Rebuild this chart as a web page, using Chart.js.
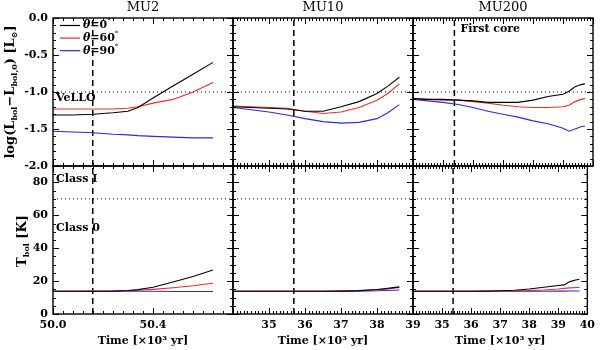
<!DOCTYPE html>
<html>
<head>
<meta charset="utf-8">
<script src="https://cdn.jsdelivr.net/npm/chart.js@4"></script>
<style>
  body { margin: 0; background: #fff; }
  #wrap { position: relative; width: 600px; height: 350px; }
  #wrap canvas { position: absolute; left: 0; top: 0; }
</style>
</head>
<body>
<div id="wrap">
  <canvas id="p0" width="600" height="350"></canvas>
  <canvas id="p1" width="600" height="350"></canvas>
  <canvas id="p2" width="600" height="350"></canvas>
  <canvas id="p3" width="600" height="350"></canvas>
  <canvas id="p4" width="600" height="350"></canvas>
  <canvas id="p5" width="600" height="350"></canvas>
</div>
<script>
// ---- data ----
const models = ['MU2', 'MU10', 'MU200'];
const angleLabels = ['0', '60', '90'];   // viewing angle theta [deg]

// MU2
const mu2Time   = [50.00, 50.08, 50.16, 50.24, 50.30, 50.34, 50.40, 50.48, 50.56, 50.64];
const mu2Lum0   = [-1.31, -1.31, -1.30, -1.28, -1.26, -1.21, -1.08, -0.92, -0.76, -0.60];
const mu2Lum60  = [-1.23, -1.23, -1.23, -1.23, -1.22, -1.20, -1.15, -1.10, -1.00, -0.87];
const mu2Lum90  = [-1.53, -1.54, -1.55, -1.57, -1.58, -1.59, -1.60, -1.61, -1.62, -1.62];
const mu2Tbol0  = [13.8, 13.8, 13.8, 13.9, 14.3, 14.8, 16.3, 19.5, 22.8, 26.8];
const mu2Tbol60 = [13.8, 13.8, 13.9, 14.0, 14.1, 14.4, 15.0, 16.0, 17.2, 18.7];
const mu2Tbol90 = [13.8, 13.8, 13.8, 13.8, 13.8, 13.8, 13.8, 13.7, 13.7, 13.7];

// MU10
const mu10Time   = [34.0, 34.5, 35.0, 35.5, 36.0, 36.5, 37.0, 37.5, 38.0, 38.3, 38.62];
const mu10Lum0   = [-1.20, -1.21, -1.22, -1.23, -1.26, -1.26, -1.20, -1.13, -1.02, -0.92, -0.80];
const mu10Lum60  = [-1.19, -1.20, -1.21, -1.22, -1.26, -1.29, -1.27, -1.21, -1.11, -1.02, -0.89];
const mu10Lum90  = [-1.21, -1.24, -1.27, -1.31, -1.36, -1.40, -1.42, -1.41, -1.36, -1.28, -1.17];
const mu10Tbol0  = [13.8, 13.8, 13.8, 13.8, 13.8, 13.8, 13.9, 14.2, 14.9, 15.6, 16.5];
const mu10Tbol60 = [13.8, 13.8, 13.8, 13.8, 13.8, 13.8, 13.9, 14.1, 14.7, 15.3, 16.2];
const mu10Tbol90 = [13.8, 13.8, 13.8, 13.8, 13.8, 13.8, 13.8, 13.9, 14.1, 14.3, 14.6];

// MU200
const mu200Time   = [34.0, 34.5, 35.0, 35.5, 36.0, 36.5, 37.0, 37.5, 38.0, 38.5, 39.0, 39.2, 39.4, 39.6, 39.73];
const mu200Lum0   = [-1.09, -1.10, -1.10, -1.11, -1.12, -1.14, -1.14, -1.14, -1.11, -1.06, -1.03, -0.99, -0.93, -0.90, -0.89];
const mu200Lum60  = [-1.09, -1.10, -1.11, -1.11, -1.13, -1.15, -1.18, -1.20, -1.21, -1.21, -1.20, -1.18, -1.13, -1.10, -1.09];
const mu200Lum90  = [-1.10, -1.12, -1.14, -1.17, -1.21, -1.26, -1.30, -1.34, -1.39, -1.43, -1.49, -1.53, -1.50, -1.47, -1.46];
const mu200Tbol0  = [13.8, 13.8, 13.8, 13.8, 13.8, 13.9, 14.1, 14.4, 15.2, 16.3, 17.3, 17.7, 19.7, 20.7, 21.1];
const mu200Tbol60 = [13.8, 13.8, 13.8, 13.8, 13.8, 13.8, 13.8, 13.9, 14.2, 14.6, 15.2, 15.6, 15.9, 16.1, 16.1];
const mu200Tbol90 = [13.8, 13.8, 13.8, 13.8, 13.8, 13.8, 13.8, 13.8, 13.8, 13.8, 13.9, 13.9, 14.0, 14.0, 14.0];

// axes and limits
const timeRanges = [[50.0, 50.72], [34, 39], [34, 40]];
const timeLabelSteps = [0.4, 1, 1];
const lumRange = [-2.0, 0.0];
const tbolRange = [0, 90];
const velloLimit = -1.0;      // VeLLO luminosity limit
const classILimit = 70;       // Class 0 / Class I boundary [K]
const firstCoreTime = [50.159, 35.69, 35.38];

const panels = [
  {time: mu2Time,   lum: [mu2Lum0, mu2Lum60, mu2Lum90],       tbol: [mu2Tbol0, mu2Tbol60, mu2Tbol90]},
  {time: mu10Time,  lum: [mu10Lum0, mu10Lum60, mu10Lum90],    tbol: [mu10Tbol0, mu10Tbol60, mu10Tbol90]},
  {time: mu200Time, lum: [mu200Lum0, mu200Lum60, mu200Lum90], tbol: [mu200Tbol0, mu200Tbol60, mu200Tbol90]}
];

// ---- style ----
const colors = ['#000000', '#e5302a', '#2a2ae0'];
const serif = '"DejaVu Serif", "Liberation Serif", serif';
const tickFont = {family: serif, size: 11, weight: 'bold'};
const minorSteps = {x: [0.04, 0.1, 0.1], lum: 0.1, tbol: 5};
const majorSteps = {x: [0.4, 1, 1], lum: 0.5, tbol: 20};

function lineData(xs, ys) {
    return xs.map((x, i) => ({x: x, y: ys[i]}));
}

// text with sub/superscript parts: style 0 normal, 1 sub, 2 sup, 3 italic
function drawRich(ctx, parts, x, y, rot, size, align) {
    ctx.save();
    ctx.translate(x, y);
    ctx.rotate(rot);
    const fontFor = s => {
        if (s === 1 || s === 2) return `bold ${Math.round(size * 0.65)}px ${serif}`;
        if (s === 3) return `italic bold ${size}px ${serif}`;
        return `bold ${size}px ${serif}`;
    };
    let w = 0;
    parts.forEach(([t, s]) => { ctx.font = fontFor(s); w += ctx.measureText(t).width; });
    let cx = align === 'center' ? -w / 2 : 0;
    ctx.fillStyle = '#000';
    ctx.textAlign = 'left';
    ctx.textBaseline = 'middle';
    parts.forEach(([t, s]) => {
        ctx.font = fontFor(s);
        const dy = s === 1 ? size * 0.3 : (s === 2 ? -size * 0.35 : 0);
        ctx.fillText(t, cx, dy);
        cx += ctx.measureText(t).width;
    });
    ctx.restore();
}

// IDL-like frame with inward ticks on all four sides
const idlAxes = {
    id: 'idlAxes',
    afterDraw(chart, args, opts) {
        const {ctx, chartArea: a} = chart;
        const xs = chart.scales.x, ys = chart.scales.y;
        ctx.save();
        ctx.strokeStyle = '#000';
        ctx.lineWidth = 1;
        ctx.beginPath();
        const marks = (scale, step, len, horiz) => {
            const first = Math.ceil(scale.min / step - 1e-6);
            for (let i = first; i * step <= scale.max + 1e-9; i++) {
                const p = Math.round(scale.getPixelForValue(i * step)) + 0.5;
                if (horiz) {
                    ctx.moveTo(p, a.bottom); ctx.lineTo(p, a.bottom - len);
                    ctx.moveTo(p, a.top); ctx.lineTo(p, a.top + len);
                } else {
                    ctx.moveTo(a.left, p); ctx.lineTo(a.left + len, p);
                    ctx.moveTo(a.right, p); ctx.lineTo(a.right - len, p);
                }
            }
        };
        marks(xs, opts.xMinor, 3, true);
        marks(xs, opts.xMajor, 6, true);
        marks(ys, opts.yMinor, 3, false);
        marks(ys, opts.yMajor, 6, false);
        ctx.stroke();
        ctx.lineWidth = 1.4;
        ctx.strokeRect(a.left, a.top, a.right - a.left, a.bottom - a.top);
        ctx.restore();
    }
};

// panel notes placed in data coordinates
const panelNotes = {
    0: [{text: 'VeLLO', x: 50.012, y: -1.08}],
    2: [{text: 'First core', x: firstCoreTime[2] + 0.2, y: -0.15}],
    3: [{text: 'Class I', x: 50.012, y: 82}, {text: 'Class 0', x: 50.012, y: 52}]
};
const notes = {
    id: 'notes',
    afterDraw(chart, args, opts) {
        (opts.items || []).forEach(n => {
            drawRich(chart.ctx, [[n.text, 0]], chart.scales.x.getPixelForValue(n.x),
                chart.scales.y.getPixelForValue(n.y), 0, 11, 'left');
        });
    }
};

// titles, y-axis titles and legend
const pageText = {
    id: 'pageText',
    afterDraw(chart) {
        const ctx = chart.ctx;
        ctx.save();
        ctx.fillStyle = '#000';
        ctx.font = `13px ${serif}`;
        ctx.textAlign = 'center';
        ctx.textBaseline = 'middle';
        models.forEach((m, i) => ctx.fillText(m, 143 + i * 180, 8));
        ctx.restore();

        drawRich(ctx, [['log(L', 0], ['bol', 1], ['\u2212L', 0], ['bol,0', 1], [') [L', 0], ['\u2299', 1], [']', 0]],
            11, 92, -Math.PI / 2, 13, 'center');
        drawRich(ctx, [['T', 0], ['bol', 1], [' [K]', 0]], 23, 241, -Math.PI / 2, 13, 'center');

        angleLabels.forEach((a, i) => {
            const y = 25.5 + i * 12.6;
            ctx.save();
            ctx.strokeStyle = colors[i];
            ctx.lineWidth = 1.2;
            ctx.beginPath();
            ctx.moveTo(60, y); ctx.lineTo(80, y);
            ctx.stroke();
            ctx.restore();
            drawRich(ctx, [['\u03b8', 3], ['=' + a, 0], ['\u00b0', 2]], 83, y, 0, 11, 'left');
        });
    }
};

// ---- charts ----
panels.forEach((p, col) => {
    [0, 1].forEach(row => {
        const idx = row * 3 + col;
        const left = 53 + col * 180;
        const top = row === 0 ? 18 : 166;
        const xr = timeRanges[col];
        const yr = row === 0 ? lumRange : tbolRange;
        const limit = row === 0 ? velloLimit : classILimit;
        const series = row === 0 ? p.lum : p.tbol;

        const datasets = series.map((ys, i) => ({
            data: lineData(p.time, ys),
            borderColor: colors[i],
            borderWidth: 1.1,
            showLine: true,
            pointRadius: 0
        }));
        datasets.push({
            data: [{x: xr[0], y: limit}, {x: xr[1], y: limit}],
            borderColor: '#000', borderWidth: 1, borderDash: [1, 3],
            showLine: true, pointRadius: 0
        });
        datasets.push({
            data: [{x: firstCoreTime[col], y: yr[0]}, {x: firstCoreTime[col], y: yr[1]}],
            borderColor: '#000', borderWidth: 1.5, borderDash: [6, 4],
            showLine: true, pointRadius: 0
        });

        const chartPlugins = [idlAxes, notes];
        if (idx === 5) chartPlugins.push(pageText);

        new Chart(document.getElementById('p' + idx), {
            type: 'scatter',
            data: {datasets: datasets},
            options: {
                responsive: false,
                animation: false,
                devicePixelRatio: 1,
                events: [],
                elements: {line: {tension: 0}},
                layout: {
                    autoPadding: false,
                    padding: {left: 0, top: top, right: 600 - left - 180, bottom: row === 0 ? 350 - 166 : 0}
                },
                plugins: {
                    legend: {display: false},
                    tooltip: {enabled: false},
                    idlAxes: {
                        xMinor: minorSteps.x[col], xMajor: majorSteps.x[col],
                        yMinor: row === 0 ? minorSteps.lum : minorSteps.tbol,
                        yMajor: row === 0 ? majorSteps.lum : majorSteps.tbol
                    },
                    notes: {items: panelNotes[idx] || []}
                },
                scales: {
                    x: {
                        type: 'linear', min: xr[0], max: xr[1],
                        afterFit: s => { s.height = row === 0 ? 0 : 36; },
                        grid: {display: false, drawTicks: false},
                        border: {display: false},
                        ticks: {
                            display: row === 1, stepSize: timeLabelSteps[col], includeBounds: false,
                            autoSkip: false, maxRotation: 0, padding: 5, color: '#000', font: tickFont,
                            callback: v => col === 0 ? v.toFixed(1) : (v === 34 ? '' : v)
                        },
                        title: {
                            display: row === 1, text: 'Time [\u00d710\u00b3 yr]', color: '#000',
                            font: tickFont, padding: {top: 0, bottom: 2}
                        }
                    },
                    y: {
                        type: 'linear', min: yr[0], max: yr[1],
                        afterFit: s => { s.width = left; },
                        grid: {display: false, drawTicks: false},
                        border: {display: false},
                        ticks: {
                            display: col === 0, stepSize: row === 0 ? 0.5 : 20, includeBounds: false,
                            autoSkip: false, padding: 5, color: '#000', font: tickFont,
                            callback: v => row === 0 ? v.toFixed(1) : v
                        }
                    }
                }
            },
            plugins: chartPlugins
        });
    });
});
</script>
</body>
</html>
